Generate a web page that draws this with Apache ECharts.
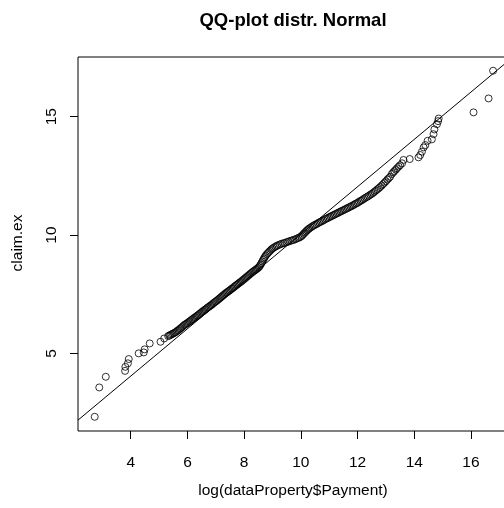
<!DOCTYPE html>
<html>
<head>
<meta charset="utf-8">
<script src="https://cdn.jsdelivr.net/npm/echarts@6/dist/echarts.min.js"></script>
<style>
  html, body { margin: 0; padding: 0; background: #fff; }
  #chart { width: 504px; height: 508px; }
</style>
</head>
<body>
<div id="chart"></div>
<script>
// Sample quantiles: log payment (x) against claim.ex (y), both sorted.
const paymentLog = [
  2.73, 2.89, 3.12, 3.80, 3.81, 3.90, 3.93, 4.28, 4.46, 4.49, 4.67, 5.05, 5.18,
  5.32, 5.36, 5.40, 5.44, 5.48, 5.52, 5.56, 5.60, 5.64, 5.68, 5.72, 5.76, 5.80, 5.84, 5.88,
  5.92, 5.96, 6.00, 6.04, 6.08, 6.12, 6.16, 6.20, 6.24, 6.28, 6.32, 6.36, 6.40, 6.44,
  6.48, 6.52, 6.56, 6.60, 6.64, 6.68, 6.72, 6.76, 6.80, 6.84, 6.88, 6.92, 6.96, 7.00,
  7.04, 7.08, 7.12, 7.16, 7.20, 7.24, 7.28, 7.32, 7.36, 7.40, 7.44, 7.48, 7.52, 7.56,
  7.60, 7.64, 7.68, 7.72, 7.76, 7.80, 7.84, 7.88, 7.92, 7.96, 8.00, 8.04, 8.08, 8.12,
  8.16, 8.20, 8.24, 8.28, 8.32, 8.36, 8.40, 8.44, 8.48, 8.52,
  8.55, 8.58, 8.61, 8.64, 8.67, 8.70, 8.73, 8.76, 8.80, 8.84, 8.88, 8.92, 8.96, 9.00,
  9.05, 9.10, 9.15, 9.20, 9.26, 9.32,
  9.38, 9.44, 9.50, 9.56, 9.62, 9.68, 9.74, 9.80, 9.86, 9.92, 9.97, 10.02,
  10.06, 10.10, 10.14, 10.18, 10.22, 10.26, 10.30, 10.35, 10.40, 10.45, 10.50,
  10.55, 10.60, 10.65, 10.70, 10.75, 10.80, 10.85, 10.90, 10.95, 11.00, 11.05, 11.10,
  11.15, 11.20, 11.25, 11.30, 11.35, 11.40, 11.45, 11.50, 11.55, 11.60, 11.65, 11.70,
  11.75, 11.80, 11.85, 11.90, 11.95, 12.00, 12.05, 12.10, 12.15, 12.20, 12.25, 12.30,
  12.35, 12.40, 12.45, 12.50, 12.55, 12.60,
  12.65, 12.70, 12.75, 12.80, 12.85, 12.90, 12.95, 13.00, 13.05, 13.10, 13.15, 13.21,
  13.26, 13.30, 13.35, 13.39, 13.45, 13.50, 13.57,
  13.62, 13.84, 14.15, 14.21, 14.27, 14.33, 14.39, 14.47, 14.62, 14.68, 14.71, 14.80,
  14.84, 14.86, 16.09, 16.62, 16.78
];
const claimEx = [
  2.32, 3.56, 4.01, 4.26, 4.43, 4.58, 4.76, 5.00, 5.04, 5.17, 5.42, 5.49, 5.63,
  5.73, 5.75, 5.78, 5.80, 5.83, 5.85, 5.88, 5.91, 5.95, 5.98, 6.02, 6.06, 6.10, 6.14, 6.19,
  6.22, 6.25, 6.28, 6.32, 6.35, 6.39, 6.43, 6.46, 6.50, 6.53, 6.57, 6.60, 6.64, 6.68,
  6.72, 6.76, 6.79, 6.83, 6.86, 6.90, 6.94, 6.97, 7.01, 7.04, 7.08, 7.12, 7.16, 7.19,
  7.23, 7.27, 7.31, 7.35, 7.39, 7.43, 7.47, 7.51, 7.55, 7.58, 7.62, 7.65, 7.69, 7.73,
  7.76, 7.80, 7.84, 7.88, 7.91, 7.95, 7.99, 8.02, 8.06, 8.10, 8.14, 8.18, 8.22, 8.26,
  8.30, 8.34, 8.38, 8.42, 8.46, 8.49, 8.53, 8.56, 8.60, 8.64,
  8.69, 8.75, 8.81, 8.88, 8.95, 9.01, 9.07, 9.13, 9.19, 9.24, 9.29, 9.34, 9.39, 9.43,
  9.47, 9.51, 9.54, 9.57, 9.60, 9.63,
  9.65, 9.67, 9.70, 9.72, 9.75, 9.77, 9.79, 9.82, 9.85, 9.88, 9.91, 9.95,
  10.00, 10.05, 10.10, 10.15, 10.20, 10.24, 10.28, 10.32, 10.36, 10.40, 10.43,
  10.46, 10.50, 10.53, 10.56, 10.59, 10.62, 10.66, 10.69, 10.72, 10.75, 10.78, 10.81,
  10.84, 10.87, 10.90, 10.93, 10.96, 10.99, 11.02, 11.05, 11.08, 11.11, 11.14, 11.17,
  11.20, 11.23, 11.26, 11.30, 11.33, 11.36, 11.40, 11.44, 11.47, 11.51, 11.55, 11.59,
  11.62, 11.66, 11.70, 11.74, 11.78, 11.83,
  11.88, 11.93, 11.98, 12.03, 12.09, 12.15, 12.21, 12.27, 12.34, 12.40, 12.46, 12.58,
  12.65, 12.70, 12.76, 12.82, 12.89, 12.95, 13.03,
  13.17, 13.21, 13.28, 13.38, 13.52, 13.70, 13.80, 13.98, 14.04, 14.26, 14.46, 14.68,
  14.81, 14.92, 15.18, 15.77, 16.94
];

// Reference line through the quartiles.
const refIntercept = 0.04;
const refSlope = 1.0;

// Axis extents and tick positions.
const xRange = [2.14, 17.26];
const yRange = [1.72, 17.52];
const xTicks = [4, 6, 8, 10, 12, 14, 16];
const yTicks = [5, 10, 15];

const titleText = 'QQ-plot distr. Normal';
const xName = 'log(dataProperty$Payment)';
const yName = 'claim.ex';

const points = paymentLog.map((x, i) => [x, claimEx[i]]);
const refLine = xRange.map(x => [x, refIntercept + refSlope * x]);

const FONT = '"Liberation Sans", Arial, Helvetica, sans-serif';

const chart = echarts.init(document.getElementById('chart'), null, { renderer: 'canvas' });
chart.setOption({
  animation: false,
  backgroundColor: '#ffffff',
  textStyle: { fontFamily: FONT, color: '#000' },
  grid: {
    left: 78, top: 57, width: 428.7, height: 374,
    show: true, borderColor: '#000', borderWidth: 1,
    backgroundColor: 'transparent',
    outerBoundsMode: 'none'
  },
  xAxis: {
    type: 'value', min: xRange[0], max: xRange[1],
    axisLine: { show: false },
    splitLine: { show: false },
    axisTick: { show: true, length: 8, customValues: xTicks, lineStyle: { color: '#000', width: 1 } },
    axisLabel: { customValues: xTicks, margin: 24, fontSize: 15.5, color: '#000', fontFamily: FONT }
  },
  yAxis: {
    type: 'value', min: yRange[0], max: yRange[1],
    axisLine: { show: false },
    splitLine: { show: false },
    axisTick: { show: true, length: 8, customValues: yTicks, lineStyle: { color: '#000', width: 1 } },
    axisLabel: { customValues: yTicks, rotate: 90, margin: 18, fontSize: 15.5, color: '#000', fontFamily: FONT }
  },
  graphic: [
    { type: 'text', style: { text: titleText, x: 293, y: 21, align: 'center', verticalAlign: 'middle', font: 'bold 18.5px ' + FONT, fill: '#000' } },
    { type: 'text', style: { text: xName, x: 293, y: 491, align: 'center', verticalAlign: 'middle', font: '15.5px ' + FONT, fill: '#000' } },
    { type: 'text', x: 18, y: 243, rotation: Math.PI / 2, style: { text: yName, x: 0, y: 0, align: 'center', verticalAlign: 'middle', font: '15.5px ' + FONT, fill: '#000' } }
  ],
  series: [
    {
      type: 'line', data: refLine, showSymbol: false, silent: true,
      lineStyle: { color: '#000', width: 1 }, clip: true
    },
    {
      type: 'scatter', data: points, symbol: 'circle', symbolSize: 7,
      itemStyle: { color: 'transparent', borderColor: '#000', borderWidth: 1 },
      clip: true
    }
  ]
});
</script>
</body>
</html>
